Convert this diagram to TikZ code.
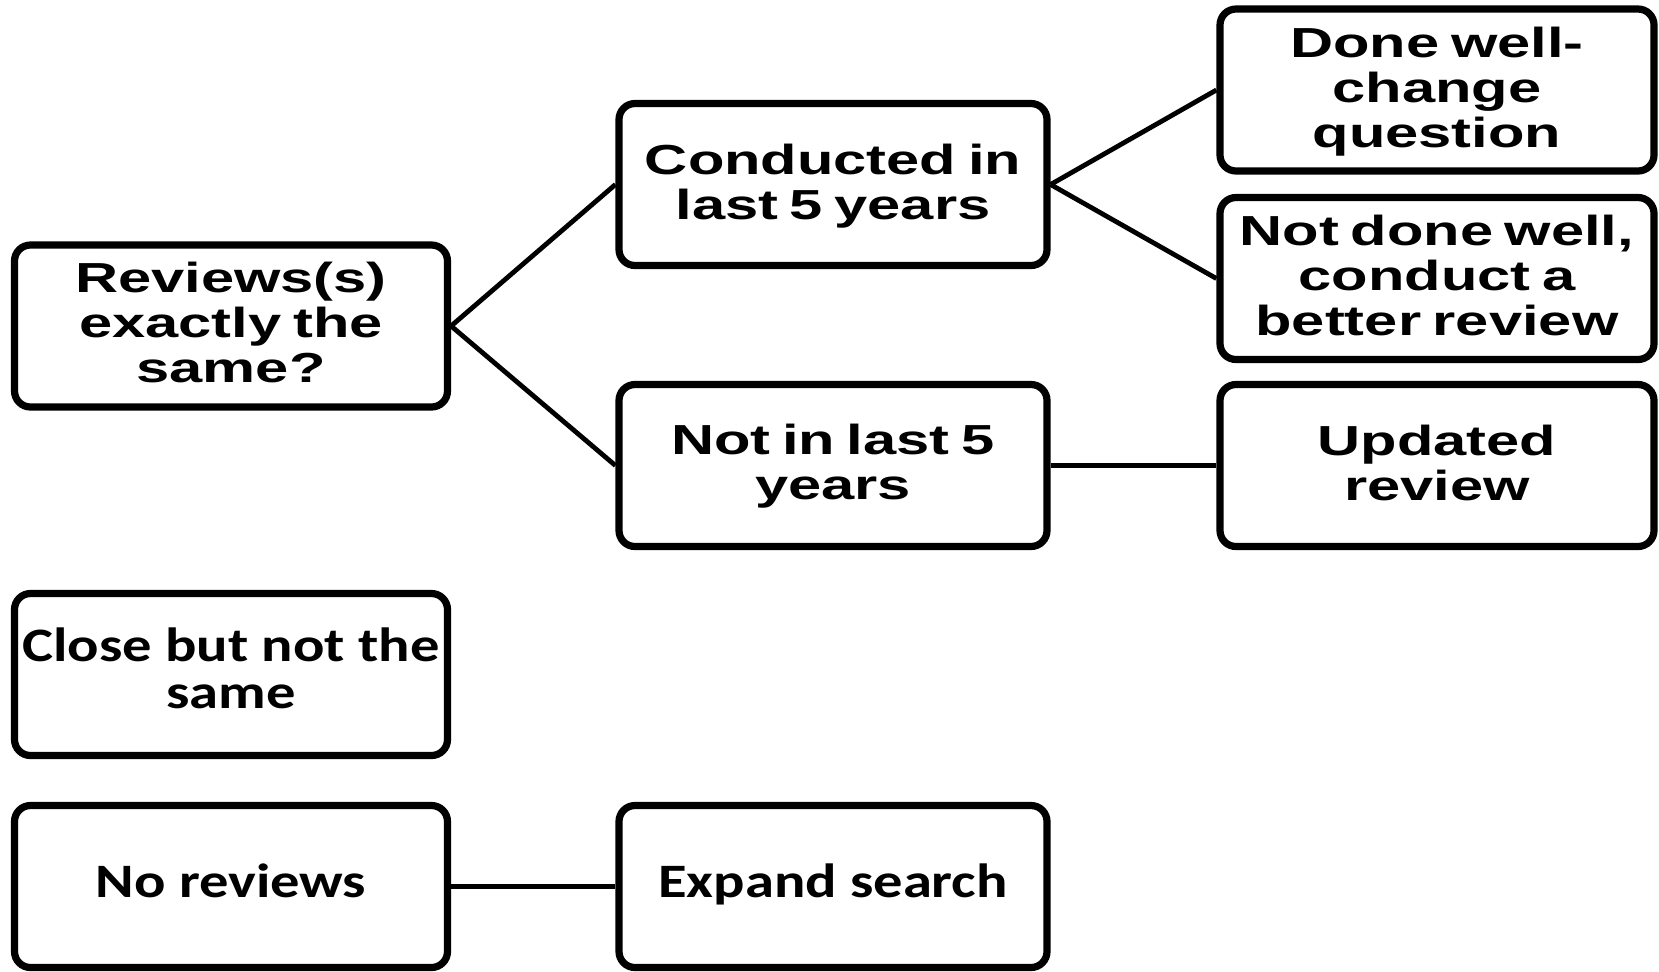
\documentclass[tikz,border=0pt]{standalone}
\usepackage{fontspec}
\newfontfamily\headfont[FakeStretch=1.42,WordSpace=0.7]{Liberation Sans Bold}
\newfontfamily\notefont[FakeStretch=1.22]{Carlito Bold}
\begin{document}
\begin{tikzpicture}[x=0.5pt,y=-0.5pt,
  box/.style={draw=black,line width=3.6pt,rounded corners=8pt,fill=white,
    inner sep=0pt,minimum height=81pt},
  colA/.style={box,minimum width=216.5pt},
  colB/.style={box,minimum width=214pt},
  colC/.style={box,minimum width=217pt},
  head/.style={align=center,inner sep=0pt,font=\headfont\fontsize{21pt}{22.5pt}\selectfont},
  note/.style={align=center,inner sep=0pt,font=\notefont\fontsize{24pt}{23.5pt}\selectfont},
  link/.style={draw=black,line width=2.4pt}]
\useasboundingbox (0,0) rectangle (1659,971);
% boxes
\node[colA] (rev) at (231,326) {};
\node[colA] (close) at (231,674.5) {};
\node[colA] (nor) at (231,886.5) {};
\node[colB] (con) at (833,184.5) {};
\node[colB] (notin) at (833,465.5) {};
\node[colB] (exp) at (833,886.5) {};
\node[colC] (done) at (1437,90) {};
\node[colC] (notdone) at (1437,278.5) {};
\node[colC] (upd) at (1437,465.5) {};
% texts
\node[head] (revt) at (231,322) {Reviews(s)\\exactly the\\same?};
\node[note] (closet) at (231,668.5) {Close but not the\\same};
\node[note] (nort) at (231,880.5) {No reviews};
\node[head] (cont) at (833,186.5) {Conducted in\\last 5 years};
\node[head] (notint) at (833,466.5) {Not in last 5\\years};
\node[note] (expt) at (833,884.5) {Expand search};
\node[head] (donet) at (1437,92) {Done well-\\change\\question};
\node[head] (notdonet) at (1437,275.5) {Not done well,\\conduct a\\better review};
\node[head] (updt) at (1437,462.5) {Updated\\review};
% connectors
\draw[link] (rev.east) -- (con.west);
\draw[link] (rev.east) -- (notin.west);
\draw[link] (con.east) -- (done.west);
\draw[link] (con.east) -- (notdone.west);
\draw[link] (notin.east) -- (upd.west);
\draw[link] (nor.east) -- (exp.west);
\end{tikzpicture}
\end{document}
